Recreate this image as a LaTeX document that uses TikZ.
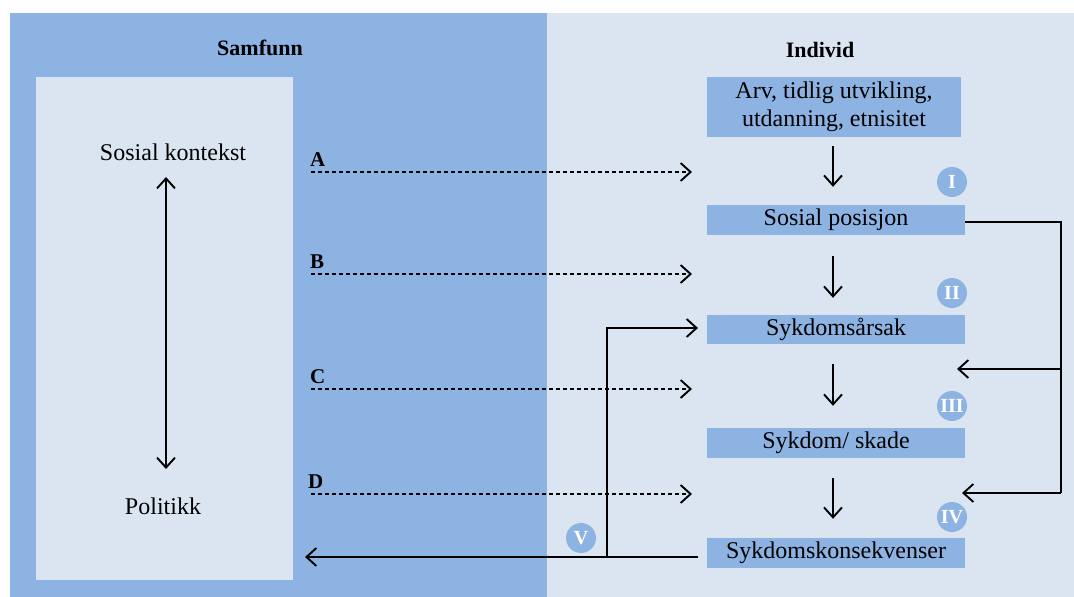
\documentclass[tikz,border=0pt]{standalone}
\usepackage{fontspec}
\setmainfont{Liberation Serif}
\usetikzlibrary{arrows.meta}
\definecolor{panelblue}{HTML}{8DB3E2}
\definecolor{panellight}{HTML}{DBE5F1}
\begin{document}
\begin{tikzpicture}[x=1pt,y=-1pt,
  txt/.style={font=\fontsize{24}{28}\selectfont, inner sep=0pt, align=center},
  ttl/.style={font=\fontsize{22}{26}\selectfont\bfseries, inner sep=0pt},
  stage/.style={fill=panelblue, minimum width=258pt, minimum height=30pt, inner sep=0pt,
    font=\fontsize{24}{28}\selectfont, align=center},
  badge/.style={circle, fill=panelblue, minimum size=30pt, inner sep=0pt,
    text=white, font=\fontsize{20}{20}\selectfont\bfseries},
  letter/.style={font=\fontsize{21}{22}\selectfont\bfseries, inner sep=0pt},
  arr/.style={line width=1.9pt, -{Straight Barb[length=10pt,width=18pt,line width=1.9pt]}},
  darr/.style={line width=1.9pt, {Straight Barb[length=10pt,width=18pt,line width=1.9pt]}-{Straight Barb[length=10pt,width=18pt,line width=1.9pt]}},
  dotarr/.style={line width=1.9pt, dash pattern=on 4pt off 3pt,
    -{Straight Barb[length=10pt,width=18pt,line width=1.9pt]}},
  link/.style={line width=1.9pt},
]
\useasboundingbox (0,0) rectangle (1074,597);
% panels
\fill[white] (0,0) rectangle (1074,597);
\fill[panelblue] (10,13) rectangle (547,597);
\fill[panellight] (547,13) rectangle (1074,597);
\fill[panellight] (36,77) rectangle (293,580);

% titles
\node[ttl] (samfunn) at (260,48) {Samfunn};
\node[ttl] (individ) at (820,50) {Individ};

% society column
\node[txt] (kontekst) at (173,152) {Sosial kontekst};
\node[txt] (politikk) at (163,506) {Politikk};
\coordinate (kt) at (166,177);
\coordinate (kb) at (166,469);
\draw[darr] (kt) -- (kb);

% individual column
\node[stage, minimum width=254pt, minimum height=60pt] (b1) at (834,107) {Arv, tidlig utvikling,\\utdanning, etnisitet};
\node[stage] (b2) at (836,220) {Sosial posisjon};
\node[stage, minimum height=29pt] (b3) at (836,329.5) {Sykdomsårsak};
\node[stage] (b4) at (836,443) {Sykdom/ skade};
\node[stage] (b5) at (836,553) {Sykdomskonsekvenser};

\draw[arr] ([xshift=-1pt,yshift=-9pt]b1.south) -- ([xshift=-3pt,yshift=18pt]b2.north);
\draw[arr] ([xshift=-3pt,yshift=-21pt]b2.south) -- ([xshift=-3pt,yshift=17pt]b3.north);
\draw[arr] ([xshift=-3pt,yshift=-20pt]b3.south) -- ([xshift=-3pt,yshift=22pt]b4.north);
\draw[arr] ([xshift=-3pt,yshift=-20pt]b4.south) -- ([xshift=-3pt,yshift=19pt]b5.north);

% stage badges
\node[badge] (n1) at (952,182) {I};
\node[badge] (n2) at (952,293) {II};
\node[badge] (n3) at (952,406) {III};
\node[badge] (n4) at (952,517) {IV};
\node[badge] (n5) at (581,538) {V};

% feedback from social position
\coordinate (rt) at (1061,222);
\coordinate (rm) at (1061,369);
\coordinate (rb) at (1061,493);
\coordinate (rmtip) at (957,369);
\coordinate (rbtip) at (962,493);
\draw[link] (b2.east |- rt) -- (rt) -- (rb);
\draw[arr] (rm) -- (rmtip);
\draw[arr] (rb) -- (rbtip);

% feedback from consequences
\coordinate (cs) at (698,557);
\coordinate (cj) at (607,557);
\coordinate (ct) at (607,328);
\coordinate (cttip) at (698,328);
\coordinate (clt) at (305,557);
\draw[arr] (cs) -- (clt);
\draw[arr] (cj) -- (ct) -- (cttip);

% society-to-individual paths
\coordinate (a0) at (311,172); \coordinate (a1) at (692,172);
\coordinate (bb0) at (311,274); \coordinate (bb1) at (692,274);
\coordinate (c0) at (311,389); \coordinate (c1) at (692,389);
\coordinate (d0) at (311,494); \coordinate (d1) at (692,494);
\draw[dotarr] (a0) -- (a1);
\draw[dotarr, line width=1.5pt] (bb0) -- (bb1);
\draw[dotarr] (c0) -- (c1);
\draw[dotarr] (d0) -- (d1);
\node[letter, anchor=south west] (la) at (310,167) {A};
\node[letter, anchor=south west] (lb) at (310,269) {B};
\node[letter, anchor=south west] (lc) at (310,384) {C};
\node[letter, anchor=south west] (ld) at (308,489) {D};
\end{tikzpicture}
\end{document}
